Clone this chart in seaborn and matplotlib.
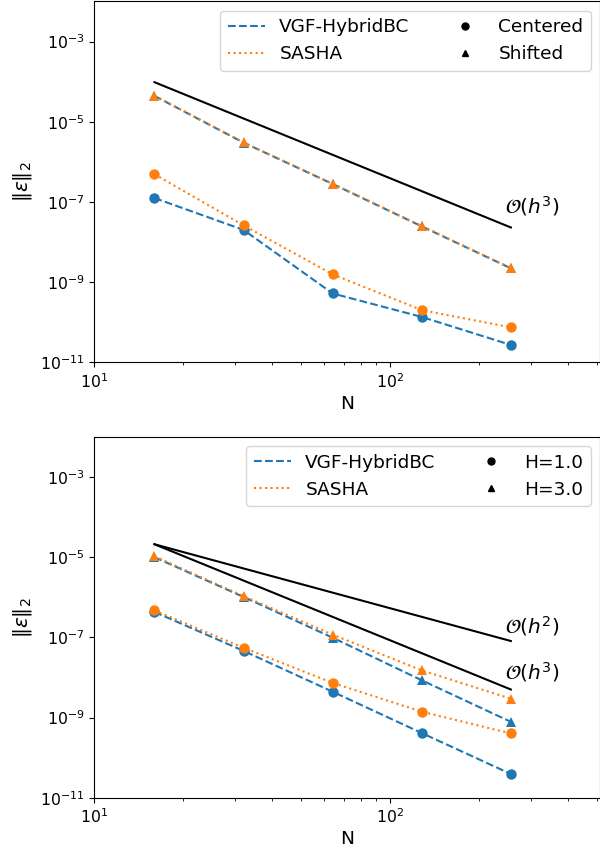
import numpy as np
import pandas as pd
import seaborn as sns
import matplotlib.pyplot as plt
from matplotlib.lines import Line2D

# grid sizes
N = [16, 32, 64, 128, 256]

# top panel: centered / shifted grids
vgf_centered = [1.25e-7, 2.0e-8, 5.2e-10, 1.35e-10, 2.7e-11]
sasha_centered = [4.9e-7, 2.6e-8, 1.56e-9, 2.0e-10, 7.4e-11]
vgf_shifted = [4.4e-5, 3.0e-6, 2.8e-7, 2.45e-8, 2.2e-9]
sasha_shifted = [4.5e-5, 3.05e-6, 2.85e-7, 2.5e-8, 2.25e-9]

# bottom panel: H=1.0 / H=3.0
vgf_h1 = [4.3e-7, 4.6e-8, 4.4e-9, 4.1e-10, 3.9e-11]
sasha_h1 = [4.7e-7, 5.5e-8, 7.3e-9, 1.4e-9, 4.0e-10]
vgf_h3 = [1.0e-5, 1.02e-6, 9.8e-8, 8.5e-9, 7.8e-10]
sasha_h3 = [1.05e-5, 1.07e-6, 1.17e-7, 1.5e-8, 2.95e-9]

# reference slopes (end points)
ref_N = [16, 256]
ref_top_h3 = [9.7e-5, 2.3e-8]
ref_bot_h2 = [2.1e-5, 8.1e-8]
ref_bot_h3 = [2.1e-5, 5.0e-9]

blue = '#1f77b4'
orange = '#ff7f0e'
FS = 13.3
plt.rcParams['xtick.labelsize'] = 11.3
plt.rcParams['ytick.labelsize'] = 11.3

fig = plt.figure(figsize=(6, 8.55), dpi=100)
ax1 = fig.add_axes([0.1567, 0.5763, 0.8433, 0.422])
ax2 = fig.add_axes([0.1567, 0.067, 0.8433, 0.422])


def draw(ax, vals, color, ls, marker):
    sns.lineplot(x=N, y=vals, color=color, linestyle=ls, marker=marker,
                 markersize=7.5, markeredgewidth=0, linewidth=1.5, ax=ax)


draw(ax1, vgf_centered, blue, '--', 'o')
draw(ax1, sasha_centered, orange, ':', 'o')
draw(ax1, vgf_shifted, blue, '--', '^')
draw(ax1, sasha_shifted, orange, ':', '^')
sns.lineplot(x=ref_N, y=ref_top_h3, color='k', linewidth=1.5, ax=ax1)
ax1.text(245, 7.8e-8, r'$\mathcal{O}(h^3)$', fontsize=14.5, va='center')

draw(ax2, vgf_h1, blue, '--', 'o')
draw(ax2, sasha_h1, orange, ':', 'o')
draw(ax2, vgf_h3, blue, '--', '^')
draw(ax2, sasha_h3, orange, ':', '^')
sns.lineplot(x=ref_N, y=ref_bot_h2, color='k', linewidth=1.5, ax=ax2)
sns.lineplot(x=ref_N, y=ref_bot_h3, color='k', linewidth=1.5, ax=ax2)
ax2.text(245, 1.9e-7, r'$\mathcal{O}(h^2)$', fontsize=14.5, va='center')
ax2.text(245, 1.4e-8, r'$\mathcal{O}(h^3)$', fontsize=14.5, va='center')

for ax, labels in [(ax1, ['Centered', 'Shifted']), (ax2, ['H=1.0', 'H=3.0'])]:
    ax.set_xscale('log')
    ax.set_yscale('log')
    ax.set_xlim(10, 512)
    ax.set_ylim(1e-11, 1e-2)
    ax.set_xlabel('N', fontsize=FS, labelpad=3)
    ax.set_ylabel(r'$\|\varepsilon\|_2$', fontsize=14.5)
    handles = [
        Line2D([], [], color=blue, linestyle='--', linewidth=1.5),
        Line2D([], [], color=orange, linestyle=':', linewidth=1.5),
        Line2D([], [], color='k', linestyle='none', marker='o', markersize=5),
        Line2D([], [], color='k', linestyle='none', marker='^', markersize=5),
    ]
    ax.legend(handles, ['VGF-HybridBC', 'SASHA'] + labels, ncol=2,
              loc='upper right', fontsize=FS)

fig.savefig('out.png', dpi=100)
